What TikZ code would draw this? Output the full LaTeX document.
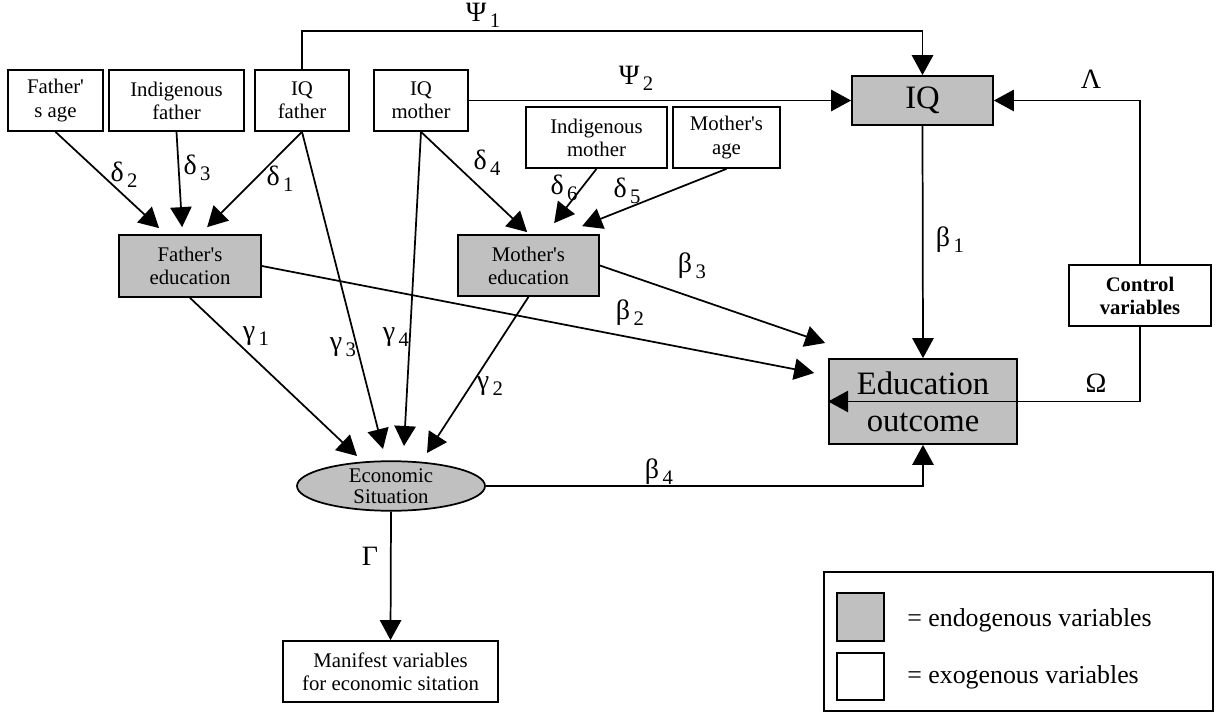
\documentclass[tikz,border=0pt]{standalone}
\usepackage{fontspec}
\setmainfont{Liberation Serif}
\usetikzlibrary{arrows.meta,calc,shapes.geometric}
\newcommand\gsym[2]{#1\raisebox{-0.45ex}{\fontsize{15.5}{15.5}\selectfont\,#2}}
\newcommand\ap{\textquotesingle}
\tikzset{
  box/.style={draw, line width=1.3pt, align=center, inner sep=0pt,
    font=\fontsize{15.6}{17.3}\selectfont},
  endo/.style={box, fill={rgb,255:red,192;green,192;blue,192}},
  bigtxt/.style={font=\fontsize{24.5}{28}\selectfont},
  arr/.style={line width=1.3pt, -{Triangle[length=15pt,width=16pt]}},
  lab/.style={inner sep=0pt, font=\fontsize{21}{22}\selectfont},
}
\begin{document}
\begin{tikzpicture}[x=0.75pt, y=-0.75pt]
\useasboundingbox (0,0) rectangle (1217,713);
% exogenous boxes
\node[box, minimum width=71.25pt, minimum height=45.75pt] (fage) at (55.5,100.5) {Father\ap\\s age};
\node[box, minimum width=101.25pt, minimum height=45.75pt] (indf) at (176.5,100.5) {Indigenous\\father};
\node[box, minimum width=70.5pt, minimum height=45.75pt] (iqf) at (302,100.5) {IQ\\father};
\node[box, minimum width=70.5pt, minimum height=45.75pt] (iqm) at (421,100.5) {IQ\\mother};
\node[box, minimum width=105.75pt, minimum height=45.75pt] (indm) at (596.5,137.5) {Indigenous\\mother};
\node[box, minimum width=80.25pt, minimum height=45.75pt] (mage) at (726.5,137.5) {Mother\ap s\\age};
\node[box, minimum width=106.5pt, minimum height=45.75pt, font=\fontsize{15.5}{17.3}\selectfont\bfseries] (ctrl) at (1140,295.5) {Control\\variables};
\node[box, minimum width=161.25pt, minimum height=45.75pt] (manif) at (390.5,671.5) {Manifest variables\\for economic sitation};
% endogenous boxes
\node[endo, minimum width=106.5pt, minimum height=46.5pt] (fedu) at (190,266) {Father\ap s\\education};
\node[endo, minimum width=105.75pt, minimum height=45.75pt] (medu) at (528.5,265.5) {Mother\ap s\\education};
\node[endo, bigtxt, minimum width=105.75pt, minimum height=36.75pt] (iq) at (922.5,100.5) {IQ};
\node[endo, bigtxt, minimum width=141pt, minimum height=63.75pt] (edu) at (923,401.5) {Education\\outcome};
\node[endo, ellipse, minimum width=141pt, minimum height=34.5pt, font=\fontsize{15.6}{15.8}\selectfont] (econ) at (391,486) {Economic\\Situation};
% legend
\node[draw, line width=1.3pt, minimum width=291.75pt, minimum height=104pt, inner sep=0pt] (leg) at (1018.5,641.5) {};
\node[endo, minimum width=35.25pt, minimum height=36pt] (lgray) at (860.5,617) {};
\node[box, minimum width=35.25pt, minimum height=35.25pt] (lwhite) at (860.5,676.5) {};
\node[anchor=west, inner sep=0pt, font=\fontsize{19.4}{20}\selectfont] (lt1) at (907,620) {= endogenous variables};
\node[anchor=west, inner sep=0pt, font=\fontsize{19.4}{20}\selectfont] (lt2) at (907,677) {= exogenous variables};
% connectors
\draw[arr] (fage.south) -- ($(fedu.north west)+(41,-6)$);
\draw[arr] (indf.south) -- ($(fedu.north west)+(64,-7)$);
\draw[arr] (iqf.south) -- ($(fedu.north west)+(89,-7)$);
\draw[arr] (iqm.south) -- ($(medu.north west)+(70,-2)$);
\draw[arr] (indm.south) -- ($(medu.north west)+(97,-11)$);
\draw[arr] (mage.south) -- ($(medu.north west)+(125,-8)$);
\draw[arr] (fedu.south) -- ($(econ.center)+(-34,-30)$);
\draw[arr] (iqf.south) -- ($(econ.center)+(-8,-37)$);
\draw[arr] (iqm.south) -- ($(econ.center)+(13,-40)$);
\draw[arr] (medu.south) -- ($(econ.center)+(36,-33)$);
\draw[arr] (fedu.east) -- ($(edu.west)+(-14,-28.5)$);
\draw[arr] (medu.east) -- ($(edu.west)+(-3,-58.5)$);
\draw[arr] (iq.south) -- (edu.north);
\draw[arr] (iqf.north) -- ++(0,-38) -| (iq.north);
\draw[arr] (iqm.east) -- (iq.west);
\draw[arr] (ctrl.north) |- (iq.east);
\draw[arr] (ctrl.south) |- (edu.west);
\draw[arr] (econ.east) -| (edu.south);
\draw[arr] (econ.south) -- (manif.north);
% labels
\node[lab] (ld2) at (124,175) {\gsym{δ}{2}};
\node[lab] (ld3) at (197,168) {\gsym{δ}{3}};
\node[lab] (ld1) at (280,179) {\gsym{δ}{1}};
\node[lab] (ld4) at (487,163) {\gsym{δ}{4}};
\node[lab] (ld6) at (564,188) {\gsym{δ}{6}};
\node[lab] (ld5) at (627,191) {\gsym{δ}{5}};
\node[lab] (lb3) at (692,266) {\gsym{β}{3}};
\node[lab] (lb2) at (630,313) {\gsym{β}{2}};
\node[lab] (lb1) at (950,240) {\gsym{β}{1}};
\node[lab] (lb4) at (659,472) {\gsym{β}{4}};
\node[lab] (lg1) at (256,336) {\gsym{γ}{1}};
\node[lab] (lg3) at (343,347) {\gsym{γ}{3}};
\node[lab] (lg4) at (396,337) {\gsym{γ}{4}};
\node[lab] (lg2) at (490,386) {\gsym{γ}{2}};
\node[lab] (lL) at (1091,79) {Λ};
\node[lab] (lO) at (1096,383) {Ω};
\node[lab] (lp1) at (483,15) {\gsym{Ψ}{1}};
\node[lab] (lp2) at (636,78) {\gsym{Ψ}{2}};
\node[lab] (lG) at (370,556) {Γ};
\end{tikzpicture}
\end{document}
